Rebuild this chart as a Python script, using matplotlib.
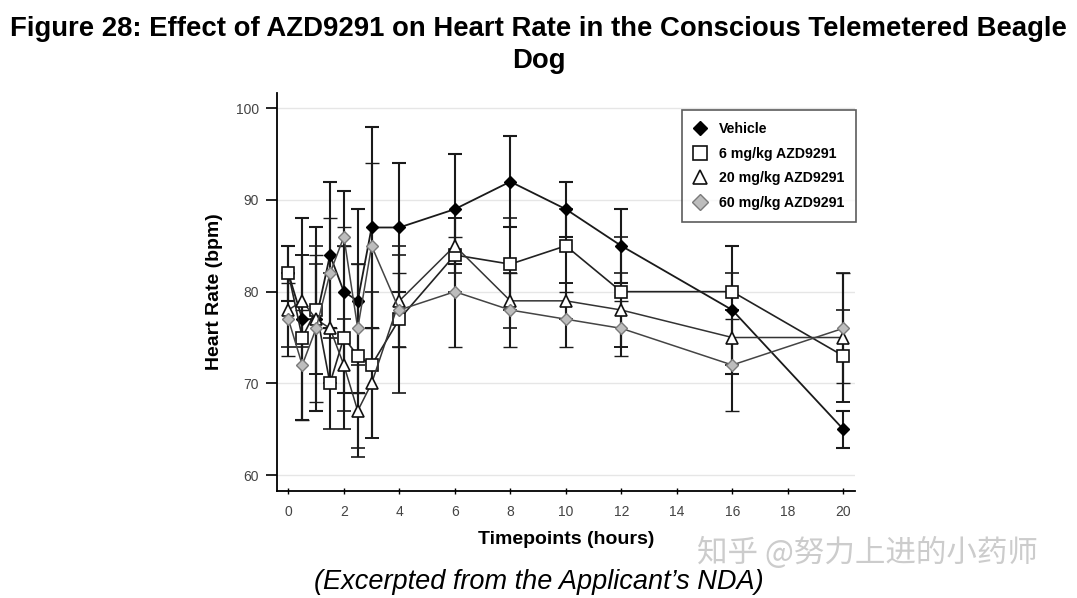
import matplotlib
matplotlib.use("Agg")
import matplotlib.pyplot as plt
from matplotlib.lines import Line2D

plt.rcParams['font.family'] = ['Liberation Sans', 'DejaVu Sans']

# timepoints (hours)
tempo = [0, 0.5, 1, 1.5, 2, 2.5, 3, 4, 6, 8, 10, 12, 16, 20]

# mean heart rate (bpm) and error
vehicle = [82, 77, 77, 84, 80, 79, 87, 87, 89, 92, 89, 85, 78, 65]
vehicle_err = [3, 11, 10, 8, 11, 10, 11, 7, 6, 5, 3, 4, 7, 2]

dose6 = [82, 75, 78, 70, 75, 73, 72, 77, 84, 83, 85, 80, 80, 73]
dose6_err = [3, 9, 7, 5, 10, 10, 8, 8, 4, 5, 4, 6, 2, 5]

dose20 = [78, 79, 77, 76, 72, 67, 70, 79, 85, 79, 79, 78, 75, 75]
dose20_err = [4, 5, 6, 6, 5, 5, 6, 5, 3, 3, 2, 4, 3, 7]

dose60 = [77, 72, 76, 82, 86, 76, 85, 78, 80, 78, 77, 76, 72, 76]
dose60_err = [4, 6, 8, 6, 1, 7, 9, 4, 6, 4, 3, 3, 5, 6]

fig = plt.figure(figsize=(10.77, 5.98), dpi=100)
ax = fig.add_axes([0.2572, 0.1794, 0.5368, 0.6651])

series = [
    ("Vehicle", vehicle, vehicle_err, dict(marker='D', ms=6, mfc='black', mec='black', color='#1a1a1a', lw=1.3)),
    ("6 mg/kg AZD9291", dose6, dose6_err, dict(marker='s', ms=9, mfc='white', mec='#111111', mew=1.2, color='#222222', lw=1.2)),
    ("20 mg/kg AZD9291", dose20, dose20_err, dict(marker='^', ms=9, mfc='white', mec='#111111', mew=1.2, color='#333333', lw=1.1)),
    ("60 mg/kg AZD9291", dose60, dose60_err, dict(marker='D', ms=6.5, mfc='#bdbdbd', mec='#7a7a7a', mew=1.0, color='#444444', lw=1.1)),
]

handles = []
for nome, valores, erros, estilo in series:
    ax.errorbar(tempo, valores, yerr=erros, ecolor='#1a1a1a', elinewidth=1.5,
                capsize=5, capthick=1.5, zorder=3, **estilo)
    leg_estilo = dict(estilo)
    leg_estilo['ms'] = estilo['ms'] + 1.5
    handles.append(Line2D([], [], linestyle='none', label=nome,
                          **{k: v for k, v in leg_estilo.items() if k not in ('color', 'lw')}))

ax.set_xlim(-0.41, 20.43)
ax.set_ylim(58.29, 101.67)
ax.set_xticks(range(0, 21, 2))
ax.set_yticks([60, 70, 80, 90, 100])
ax.yaxis.grid(True, color='#e6e6e6', lw=1)
ax.set_axisbelow(True)
ax.spines['top'].set_visible(False)
ax.spines['right'].set_visible(False)
ax.spines['left'].set_linewidth(1.3)
ax.spines['bottom'].set_linewidth(1.3)
ax.tick_params(axis='y', direction='out', length=8, width=1.2, labelsize=10, labelcolor='#444444', pad=5)
ax.tick_params(axis='x', direction='inout', length=4, width=1, labelsize=10, labelcolor='#444444', pad=8)

ax.set_ylabel("Heart Rate (bpm)", fontsize=14, fontweight='bold', labelpad=9)
ax.set_xlabel("Timepoints (hours)", fontsize=14, fontweight='bold', labelpad=9)

leg = ax.legend(handles=handles, loc='upper right', bbox_to_anchor=(1.002, 0.957),
                prop={'weight': 'bold', 'size': 10.2}, frameon=True, fancybox=False,
                edgecolor='#333333', handletextpad=0.95, labelspacing=0.74, borderpad=0.85,
                handlelength=0.8, borderaxespad=0)
leg.get_frame().set_linewidth(1.2)

fig.text(0.5, 0.952, "Figure 28: Effect of AZD9291 on Heart Rate in the Conscious Telemetered Beagle",
         ha='center', va='center', fontsize=19.8, fontweight='bold')
fig.text(0.5, 0.898, "Dog", ha='center', va='center', fontsize=19.8, fontweight='bold')
fig.text(0.5, 0.026, "(Excerpted from the Applicant\u2019s NDA)", ha='center', va='center',
         fontsize=19.5, style='italic')
fig.text(0.805, 0.075, "知乎 @努力上进的小药师", ha='center', va='center', fontsize=22,
         color='#cccccc', family=['Noto Sans CJK SC', 'DejaVu Sans'])

fig.savefig("out.png", dpi=100)
